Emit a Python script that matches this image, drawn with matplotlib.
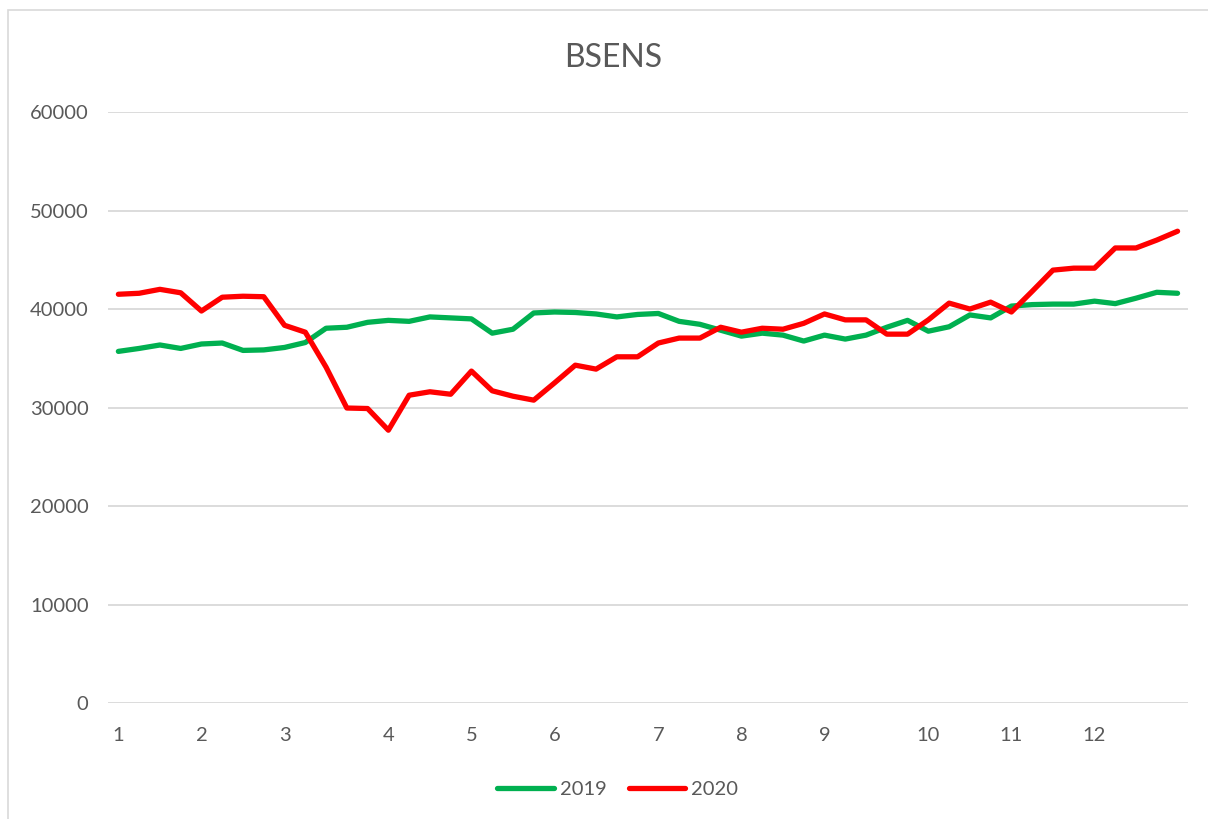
import numpy as np
import matplotlib.pyplot as plt
from matplotlib.patches import Rectangle

# weekly BSE Sensex closing values, 52 weeks per year
sens_2019 = [35700, 36000, 36350, 36000, 36450, 36550, 35800, 35850, 36100, 36600,
             38050, 38150, 38650, 38850, 38750, 39200, 39100, 39000, 37550, 37950,
             39600, 39700, 39650, 39500, 39200, 39450, 39550, 38750, 38450, 37850,
             37250, 37550, 37350, 36750, 37350, 36950, 37350, 38150, 38850, 37750,
             38200, 39400, 39100, 40300, 40450, 40500, 40500, 40800, 40550, 41100,
             41700, 41600]
sens_2020 = [41500, 41600, 42000, 41650, 39800, 41200, 41300, 41250, 38350, 37650,
             34100, 29950, 29900, 27700, 31250, 31600, 31350, 33700, 31700, 31150,
             30750, 32500, 34300, 33900, 35150, 35150, 36550, 37050, 37050, 38150,
             37650, 38050, 37950, 38550, 39500, 38900, 38900, 37450, 37450, 38900,
             40600, 40000, 40700, 39700, 41800, 43950, 44150, 44150, 46200, 46200,
             47000, 47900]

# first week of each month gets the month label
month_pos = [0, 4, 8, 13, 17, 21, 26, 30, 34, 39, 43, 47]
month_labels = [str(m) for m in range(1, 13)]

grey_txt = "#595959"
grid_col = "#D9D9D9"

plt.rcParams['font.family'] = ['Lato', 'DejaVu Sans']

fig = plt.figure(figsize=(12.08, 8.19), dpi=100)
ax = fig.add_axes([0.0894, 0.1416, 0.894, 0.7216])

weeks = np.arange(len(sens_2019))
ax.plot(weeks, sens_2019, color="#00B050", lw=3.8, label="2019", solid_capstyle="round")
ax.plot(weeks, sens_2020, color="#FF0000", lw=3.8, label="2020", solid_capstyle="round")

ax.set_xlim(-0.5, len(weeks) - 0.5)
ax.set_ylim(0, 60000)
ax.set_yticks(np.arange(0, 60001, 10000))
ax.set_xticks(month_pos)
ax.set_xticklabels(month_labels)

ax.grid(axis="y", color=grid_col, lw=1.3)
ax.set_axisbelow(True)
for s in ax.spines.values():
    s.set_visible(False)
ax.tick_params(axis="both", length=0, labelsize=14.5, colors=grey_txt)
ax.tick_params(axis="y", pad=14)
ax.tick_params(axis="x", pad=17)

fig.text(0.508, 0.929, "BSENS", ha="center", va="center", fontsize=23, color=grey_txt)

leg = ax.legend(loc="center", bbox_to_anchor=(0.472, -0.146), ncol=2, frameon=False,
                fontsize=14.5, handlelength=2.8, handletextpad=0.3, columnspacing=1.1)
for t in leg.get_texts():
    t.set_color(grey_txt)

# chart area border
fig.patches.append(Rectangle((0.007, -0.01), 1.0, 0.998, transform=fig.transFigure,
                             fill=False, edgecolor=grid_col, lw=1.2))

fig.savefig("out.png", dpi=100)
